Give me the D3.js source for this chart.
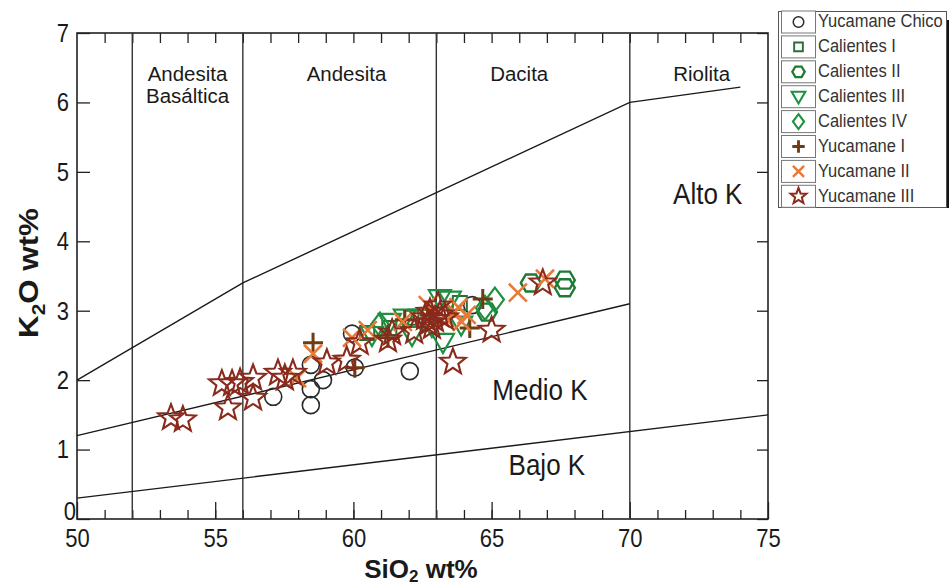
<!DOCTYPE html>
<html>
<head>
<meta charset="utf-8">
<script src="https://cdn.jsdelivr.net/npm/d3@7"></script>
<style>
  body { margin: 0; background: #fff; }
  svg { display: block; font-family: "Liberation Sans", Arial, sans-serif; }
  .st { transform-box: fill-box; transform-origin: center; transform: scaleY(1.16); }
  .stw { transform-box: fill-box; transform-origin: center; transform: scaleX(1.05); }
  .stx { transform-box: fill-box; transform-origin: center; transform: scaleX(1.16); }
</style>
</head>
<body>
<svg id="chart" width="949" height="588"></svg>
<script>
// ---------------- DATA ----------------
const xTicks = [50, 55, 60, 65, 70, 75];
const yTicks = [0, 1, 2, 3, 4, 5, 6, 7];
const divisions = [52, 56, 63, 70];

// boundary lines [SiO2, K2O]
const altoMedioLine = [[50, 2.0], [56, 3.4], [70, 6.0], [74, 6.22]];
const medioBajoLine = [[50, 1.2], [70, 3.1]];
const bajoLine = [[50, 0.3], [75, 1.5]];

const yucamaneChico = [[57.1,1.76],[58.46,2.22],[58.46,1.87],[58.46,1.64],[58.9,2.0],[59.95,2.67],[60.05,2.18],[62.04,2.13],[64.3,3.08]];
const calientesI = [[60.5,2.68],[61.3,2.75],[62.1,2.9],[63.85,3.11]];
const calientesII = [[64.83,2.98],[66.42,3.4],[67.65,3.44],[67.65,3.33]];
const calientesIII = [[60.67,2.65],[61.32,2.84],[61.86,2.9],[62.41,2.9],[62.84,2.78],[63.13,3.18],[63.49,3.16],[63.24,2.55],[62.12,2.65],[63.9,2.8]];
const calientesIV = [[60.96,2.8],[64.76,3.04],[65.12,3.16]];
const yucamaneI = [[58.54,2.54],[60.05,2.18],[61.25,2.61],[61.86,2.87],[62.77,2.94],[64.21,2.75],[64.68,3.17]];
const yucamaneII = [[57.96,2.03],[58.54,2.38],[59.95,2.61],[60.52,2.72],[61.79,2.84],[62.69,3.08],[63.31,2.9],[63.67,2.98],[63.92,2.84],[64.1,2.94],[63.8,3.05],[65.95,3.26],[66.93,3.46]];
const yucamaneIII = [[53.4,1.46],[53.83,1.43],[55.24,1.95],[55.61,1.95],[55.9,1.97],[55.46,1.6],[56.37,2.03],[56.37,1.74],[57.27,2.1],[57.52,2.03],[57.81,2.1],[59.04,2.25],[59.76,2.29],[60.23,2.54],[61.25,2.58],[61.4,2.68],[62.2,2.7],[62.59,2.9],[62.77,2.98],[62.95,2.87],[63.13,2.94],[62.84,2.77],[63.06,3.07],[62.7,2.82],[63.31,2.9],[63.6,2.26],[65.0,2.72],[66.85,3.4]];

const regionLabels = [["Andesita", 54, 0], ["Basáltica", 54, 1], ["Andesita", 59.75, 0], ["Dacita", 66.0, 0], ["Riolita", 72.6, 0]];
const fieldLabels = [["Alto K", 72.82, 4.65], ["Medio K", 66.75, 1.83], ["Bajo K", 67.0, 0.75]];

// ---------------- SETUP ----------------
const svg = d3.select("#chart");
const x = d3.scaleLinear().domain([50, 75]).range([77, 768]);
const y = d3.scaleLinear().domain([0, 7]).range([519, 33]);

const line = d3.line().x(d => x(d[0])).y(d => y(d[1]));

function starPath(ro, ri) {
  const p = [];
  for (let i = 0; i < 10; i++) {
    const r = i % 2 === 0 ? ro : ri;
    const a = -Math.PI / 2 + i * Math.PI / 5;
    p.push([r * Math.cos(a), r * Math.sin(a)]);
  }
  return "M" + p.map(q => q[0].toFixed(2) + "," + q[1].toFixed(2)).join("L") + "Z";
}
function polyPath(pts) { return "M" + pts.map(q => q.join(",")).join("L") + "Z"; }
const shapes = {
  circle: s => `M${-8.5*s},0a${8.5*s},${8.5*s} 0 1,0 ${17*s},0a${8.5*s},${8.5*s} 0 1,0 ${-17*s},0Z`,
  square: s => polyPath([[-7*s,-7*s],[7*s,-7*s],[7*s,7*s],[-7*s,7*s]]),
  hexagon: s => polyPath([[-10*s,0],[-5*s,-8.5*s],[5*s,-8.5*s],[10*s,0],[5*s,8.5*s],[-5*s,8.5*s]]),
  triangle: s => polyPath([[-11*s,-8*s],[11*s,-8*s],[0,11*s]]),
  diamond: s => polyPath([[0,-12*s],[9*s,0],[0,12*s],[-9*s,0]]),
  plus: s => `M${-10*s},0H${10*s}M0,${-10*s}V${10*s}`,
  times: s => `M${-9*s},${-9*s}L${9*s},${9*s}M${-9*s},${9*s}L${9*s},${-9*s}`,
  star: s => starPath(13.5*s, 5.7*s)
};

const series = [
  { name: "Yucamane Chico", data: yucamaneChico, shape: "circle", color: "#2a2a2a", width: 1.6 },
  { name: "Calientes I", data: calientesI, shape: "square", color: "#2f6b35", width: 2 },
  { name: "Calientes II", data: calientesII, shape: "hexagon", color: "#1f7a34", width: 2.4 },
  { name: "Calientes III", data: calientesIII, shape: "triangle", color: "#1c9140", width: 2.2 },
  { name: "Calientes IV", data: calientesIV, shape: "diamond", color: "#1c9140", width: 2.2 },
  { name: "Yucamane I", data: yucamaneI, shape: "plus", color: "#6e3b12", width: 3 },
  { name: "Yucamane II", data: yucamaneII, shape: "times", color: "#e77a38", width: 2.6 },
  { name: "Yucamane III", data: yucamaneIII, shape: "star", color: "#8a2a1c", width: 2.1 }
];

// ---------------- AXES ----------------
const axisG = svg.append("g");
axisG.append("g").attr("transform", "translate(0,519)")
  .call(d3.axisBottom(x).tickValues(d3.range(51, 75)).tickSize(-9).tickFormat(""))
  .call(g => g.select(".domain").remove());
axisG.append("g").attr("class", "xlab").attr("transform", "translate(0,519)")
  .call(d3.axisBottom(x).tickValues(xTicks).tickSize(-17).tickPadding(11).tickFormat(d3.format("d")))
  .call(g => g.select(".domain").remove());
axisG.append("g").attr("transform", "translate(0,33)")
  .call(d3.axisTop(x).tickValues(d3.range(51, 75)).tickSize(-10).tickFormat(""))
  .call(g => g.select(".domain").remove());
axisG.append("g").attr("class", "ylab").attr("transform", "translate(77,0)")
  .call(d3.axisLeft(y).tickValues(yTicks).tickSize(-13).tickPadding(8).tickFormat(d3.format("d")))
  .call(g => g.select(".domain").remove());
axisG.append("g").attr("transform", "translate(768,0)")
  .call(d3.axisRight(y).tickValues(yTicks).tickSize(-11).tickFormat(""))
  .call(g => g.select(".domain").remove());
axisG.selectAll("line").attr("stroke", "#222").attr("stroke-width", 1.3);
axisG.selectAll("text").attr("font-size", 22).attr("fill", "#1a1a1a")
  .attr("font-family", "Liberation Sans, Arial, sans-serif").attr("class", "st");
// the "0" label sits tucked against the corner
axisG.select(".ylab").selectAll(".tick").filter(d => d === 0).select("text")
  .attr("x", -1).attr("dy", "-0.05em");

// frame
svg.append("rect").attr("x", x(50)).attr("y", y(7)).attr("width", x(75) - x(50)).attr("height", y(0) - y(7))
  .attr("fill", "none").attr("stroke", "#222").attr("stroke-width", 1.6);

svg.selectAll(".div").data(divisions).join("line")
  .attr("x1", d => x(d)).attr("x2", d => x(d)).attr("y1", y(0)).attr("y2", y(7))
  .attr("stroke", "#333").attr("stroke-width", 1.4);

[altoMedioLine, medioBajoLine, bajoLine].forEach(l => {
  svg.append("path").attr("d", line(l)).attr("fill", "none").attr("stroke", "#1a1a1a").attr("stroke-width", 1.4);
});

svg.selectAll(".reg").data(regionLabels).join("text").attr("class", "stw")
  .attr("x", d => x(d[1])).attr("y", d => 81 + d[2] * 22)
  .attr("text-anchor", "middle").attr("font-size", 19.5).attr("fill", "#1a1a1a").text(d => d[0]);
svg.selectAll(".fld").data(fieldLabels).join("text").attr("class", "st")
  .attr("x", d => x(d[1])).attr("y", d => y(d[2]))
  .attr("text-anchor", "middle").attr("dominant-baseline", "middle").attr("font-size", 26).attr("fill", "#1a1a1a").text(d => d[0]);

// axis titles
const ytg = svg.append("g").attr("transform", "translate(38,273) rotate(-90)");
const yt = ytg.append("text").attr("class", "stx")
  .attr("text-anchor", "middle").attr("font-size", 27).attr("font-weight", "bold").attr("fill", "#1a1a1a");
yt.append("tspan").text("K");
yt.append("tspan").attr("font-size", 18).attr("dy", 7).text("2");
yt.append("tspan").attr("dy", -7).text("O wt%");
const xt = svg.append("text").attr("x", 421).attr("y", 578)
  .attr("text-anchor", "middle").attr("font-size", 26).attr("font-weight", "bold").attr("fill", "#1a1a1a");
xt.append("tspan").text("SiO");
xt.append("tspan").attr("font-size", 17).attr("dy", 4).text("2");
xt.append("tspan").attr("dy", -4).text(" wt%");

// ---------------- POINTS ----------------
series.forEach(s => {
  svg.append("g").selectAll("path").data(s.data).join("path")
    .attr("transform", d => `translate(${x(d[0])},${y(d[1])})`)
    .attr("d", shapes[s.shape](1))
    .attr("fill", "none").attr("stroke", s.color).attr("stroke-width", s.width)
    .attr("stroke-linejoin", "miter");
});

// ---------------- LEGEND ----------------
const lg = svg.append("g");
lg.append("rect").attr("x", 946).attr("y", 20).attr("width", 3).attr("height", 188).attr("fill", "#111");
lg.append("rect").attr("x", 778.5).attr("y", 11.5).attr("width", 168).attr("height", 196)
  .attr("fill", "#fff").attr("stroke", "#555").attr("stroke-width", 1);
series.forEach((s, i) => {
  const cy = 22 + i * 24.9;
  lg.append("rect").attr("x", 781.5).attr("y", cy - 11).attr("width", 34).attr("height", 22)
    .attr("fill", "#fff").attr("stroke", "#777").attr("stroke-width", 1);
  lg.append("path").attr("transform", `translate(798.5,${cy})`)
    .attr("d", shapes[s.shape](0.62)).attr("fill", "none").attr("stroke", s.color)
    .attr("stroke-width", s.width * 0.95);
  lg.append("text").attr("class", "st").attr("x", 818).attr("y", cy).attr("dominant-baseline", "middle")
    .attr("font-size", 16.5).attr("fill", "#333").text(s.name);
});
</script>
</body>
</html>
